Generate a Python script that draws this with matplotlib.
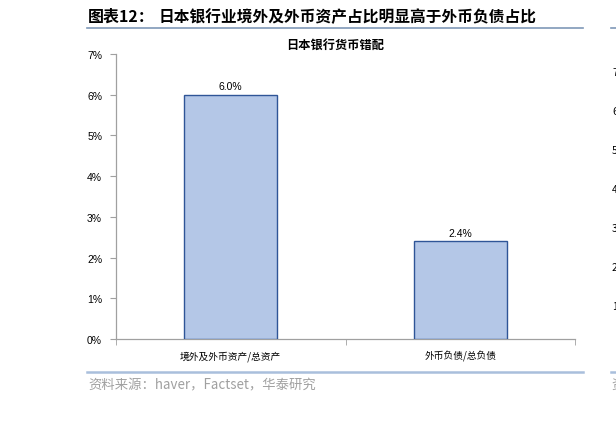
import matplotlib
matplotlib.use('Agg')
import matplotlib.pyplot as plt
from matplotlib.lines import Line2D

plt.rcParams['font.family'] = ['Noto Sans CJK SC', 'DejaVu Sans']

categories = ['境外及外币资产/总资产', '外币负债/总负债']
values = [6.0, 2.4]
yticks = [0, 1, 2, 3, 4, 5, 6, 7]
# tick digits of the neighbouring chart that peek in at the right edge
edge_digits = ['7', '6', '5', '4', '3', '2', '1']

W, H = 616, 431
fig = plt.figure(figsize=(W / 100, H / 100), dpi=100)

def fx(px):
    return px / W

def fy(py):
    return 1 - py / H

ax = fig.add_axes([fx(116), fy(340), fx(575) - fx(116), fy(55) - fy(340)])

x = list(range(len(categories)))
ax.bar(x, values, width=0.405, color='#B4C7E7', edgecolor='#2F5597', linewidth=1.0, zorder=3)
for xi, v in zip(x, values):
    ax.text(xi, v + 0.08, f'{v:.1f}%', ha='center', va='bottom', fontsize=7.5,
            family=['Liberation Sans', 'DejaVu Sans'])

ax.set_xlim(-0.5, len(categories) - 0.5)
ax.set_ylim(0, 7)
ax.set_yticks(yticks)
ax.set_yticklabels([f'{t}%' for t in yticks], fontsize=7.5, family=['Liberation Sans', 'DejaVu Sans'])
ax.set_xticks(x)
ax.set_xticklabels(categories, fontsize=7)
ax.set_xticks([-0.5, 0.5, 1.5], minor=True)
ax.tick_params(axis='x', which='major', length=0, pad=8)
ax.tick_params(axis='x', which='minor', length=4, direction='out', color='#A0A0A0')
ax.tick_params(axis='y', length=4, direction='out', color='#A0A0A0', pad=6)
for s in ['top', 'right']:
    ax.spines[s].set_visible(False)
for s in ['left', 'bottom']:
    ax.spines[s].set_color('#A0A0A0')
    ax.spines[s].set_linewidth(0.9)

fig.text(fx(335), fy(45), '日本银行货币错配', fontsize=8.8, fontweight='bold',
         ha='center', va='center')

# heading, rules and source note
fig.text(fx(88), fy(17), '图表12：', fontsize=11.5, fontweight='bold', va='center', ha='left')
fig.text(fx(159), fy(17), '日本银行业境外及外币资产占比明显高于外币负债占比',
         fontsize=11.3, fontweight='bold', va='center', ha='left')
fig.add_artist(Line2D([fx(87), fx(583)], [fy(29), fy(29)], color='#7F98B8', lw=1.2))
fig.add_artist(Line2D([fx(87), fx(583)], [fy(373), fy(373)], color='#A9BFDC', lw=1.8))
fig.text(fx(88), fy(385), '资料来源：haver，Factset，华泰研究', fontsize=9.6,
         color='#A0A0A0', va='center', ha='left')

# neighbouring chart cut off at the right edge
fig.add_artist(Line2D([fx(611), fx(616)], [fy(29), fy(29)], color='#7F98B8', lw=1.2))
fig.add_artist(Line2D([fx(611), fx(616)], [fy(373), fy(373)], color='#A9BFDC', lw=1.8))
for i, d in enumerate(edge_digits):
    fig.text(fx(612), fy(73 + 39 * i), d, fontsize=7.5, va='center', ha='left')
fig.text(fx(611), fy(385), '资', fontsize=9.6, color='#A0A0A0', va='center', ha='left')

fig.savefig('out.png', dpi=100)
